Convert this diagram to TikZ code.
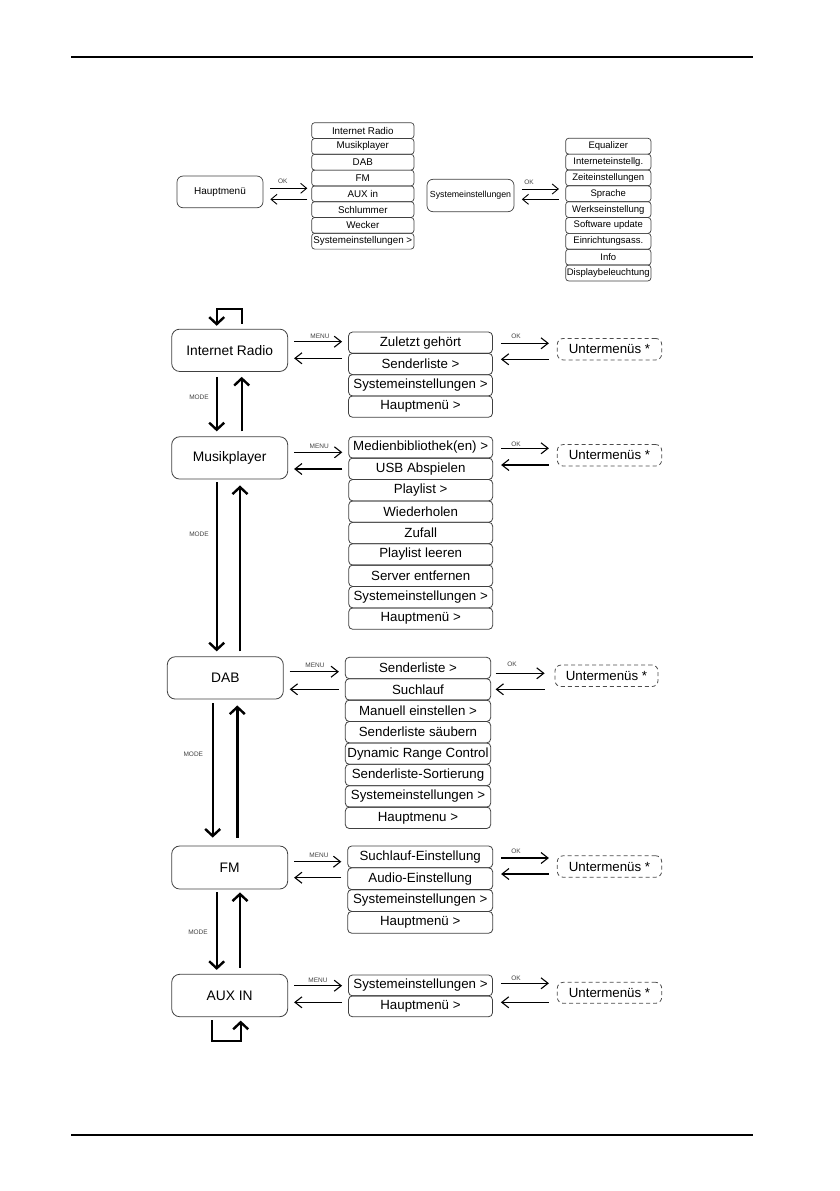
\documentclass[tikz,border=0pt]{standalone}
\usepackage{fontspec}
\setmainfont{Liberation Sans}
\usetikzlibrary{arrows.meta}

\tikzset{
  modebox/.style={draw=black!75, line width=0.8pt, rounded corners=8pt, minimum width=116pt, minimum height=42.3pt, inner sep=0pt, font=\fontsize{13.8}{15}\selectfont},
  itembox/.style={draw=black!75, line width=0.8pt, rounded corners=4pt, minimum width=144pt, minimum height=21.4pt, inner sep=0pt, font=\fontsize{13.3}{15}\selectfont},
  subbox/.style={draw=black!70, dash pattern=on 4pt off 3pt, line width=0.8pt, rounded corners=6pt, minimum width=104.4pt, minimum height=21.5pt, inner sep=0pt, font=\fontsize{13.3}{15}\selectfont},
  topbox/.style={draw=black!75, line width=0.7pt, rounded corners=6pt, inner sep=0pt, font=\fontsize{10}{11}\selectfont},
  topitem/.style={draw=black!75, line width=0.7pt, rounded corners=3pt, inner sep=0pt, minimum height=15.8pt, font=\fontsize{9.8}{11}\selectfont},
  keylabel/.style={font=\fontsize{6.5}{7}\selectfont, text=black!75, inner sep=0pt},
  toparrow/.style={-{Straight Barb[length=6pt,width=10pt]}, line width=0.9pt},
  menuarrow/.style={-{Straight Barb[length=7pt,width=11pt]}, line width=1.1pt, shorten <=6pt, shorten >=6pt},
  okarrow/.style={menuarrow, shorten <=8pt, shorten >=8pt},
  modearrow/.style={-{Straight Barb[length=7pt,width=15pt]}, line width=2.4pt},
}

\begin{document}
\begin{tikzpicture}[x=1pt,y=-1pt]
\useasboundingbox (0,0) rectangle (839,1191);

% page rules
\draw[line width=1.1pt] (71,57) -- (753,57);
\draw[line width=1.1pt] (71,1135) -- (753,1135);

% ---- Hauptmenue / Systemeinstellungen ----
\node[topbox, minimum width=86pt, minimum height=31.7pt] (hm) at (220,191.9) {Hauptmenü};
\foreach \t [count=\i] in {Internet Radio, Musikplayer, DAB, FM, AUX in, Schlummer, Wecker, Systemeinstellungen >}
  \node[topitem, minimum width=102.3pt] (hml\i) at (362.8,{130.6+15.8*(\i-1)}) {\t};
\draw[toparrow, shorten <=7pt, shorten >=4pt] (hm.east |- 0,188.3) -- (hml1.west |- 0,188.3);
\draw[toparrow, shorten <=4pt, shorten >=7pt] (hml1.west |- 0,199.3) -- (hm.east |- 0,199.3);
\node[keylabel] (okhm) at (282.7,181.7) {OK};

\node[topbox, minimum width=87pt, minimum height=32.4pt, font=\fontsize{8.8}{10}\selectfont] (se) at (470.5,195.5) {Systemeinstellungen};
\foreach \t [count=\i] in {Equalizer, Interneteinstellg., Zeiteinstellungen, Sprache, Werkseinstellung, Software update, Einrichtungsass., Info, Displaybeleuchtung}
  \node[topitem, minimum width=85.3pt, minimum height=15.85pt, font=\fontsize{9.5}{11}\selectfont] (sel\i) at (608.3,{146.2+15.85*(\i-1)}) {\t};
\draw[toparrow, shorten <=7.5pt, shorten >=6.4pt] (se.east |- 0,189) -- (sel1.west |- 0,189);
\draw[toparrow, shorten <=6.4pt, shorten >=7.5pt] (sel1.west |- 0,199.3) -- (se.east |- 0,199.3);
\node[keylabel] (okse) at (529,182) {OK};

% ---- Internet Radio ----
\node[modebox] (ir) at (229.7,350.3) {Internet Radio};
\foreach \t [count=\i] in {Zuletzt gehört, Senderliste >, Systemeinstellungen >, Hauptmenü >}
  \node[itembox, minimum height=21.3pt] (irl\i) at (420.5,{342.7+21.3*(\i-1)}) {\t};
\node[subbox] (irsub) at (609.5,349.2) {Untermenüs *};
\draw[menuarrow] (ir.east |- 0,341.7) -- (irl1.west |- 0,341.7);
\draw[menuarrow] (irl1.west |- 0,358.3) -- (ir.east |- 0,358.3);
\node[keylabel] (menuir) at (320,336.5) {MENU};
\draw[okarrow] (irl1.east |- 0,343.3) -- (irsub.west |- 0,343.3);
\draw[okarrow] (irsub.west |- 0,359.3) -- (irl1.east |- 0,359.3);
\node[keylabel] (okir) at (516,336.7) {OK};
\draw[modearrow, shorten <=5pt, shorten >=3pt] (241.7,0 |- ir.north) -- (241.7,309) -- (216.7,309) -- (216.7,0 |- ir.north);

% ---- Musikplayer ----
\node[modebox] (mp) at (229.7,457.9) {Musikplayer};
\foreach \t [count=\i] in {Medienbibliothek(en) >, USB Abspielen, Playlist >, Wiederholen, Zufall, Playlist leeren, Server entfernen, Systemeinstellungen >, Hauptmenü >}
  \node[itembox] (mpl\i) at (420.7,{447.4+21.4*(\i-1)}) {\t};
\node[subbox] (mpsub) at (609.5,455.3) {Untermenüs *};
\draw[menuarrow] (mp.east |- 0,452.3) -- (mpl1.west |- 0,452.3);
\draw[menuarrow] (mpl1.west |- 0,469) -- (mp.east |- 0,469);
\node[keylabel] (menump) at (319.3,446.7) {MENU};
\draw[okarrow] (mpl1.east |- 0,448.3) -- (mpsub.west |- 0,448.3);
\draw[okarrow] (mpsub.west |- 0,465) -- (mpl1.east |- 0,465);
\node[keylabel] (okmp) at (516,444) {OK};

\draw[modearrow, shorten <=5pt, shorten >=5pt] (216.7,0 |- ir.south) -- (216.7,0 |- mp.north);
\draw[modearrow, shorten <=5pt, shorten >=5pt] (241.7,0 |- mp.north) -- (241.7,0 |- ir.south);
\node[keylabel] (modeir) at (199,397.7) {MODE};

% ---- DAB ----
\node[modebox] (dab) at (225.3,677.9) {DAB};
\foreach \t [count=\i] in {Senderliste >, Suchlauf, Manuell einstellen >, Senderliste säubern, Dynamic Range Control, Senderliste-Sortierung, Systemeinstellungen >, Hauptmenu >}
  \node[itembox, minimum width=145.4pt] (dabl\i) at (418,{668+21.4*(\i-1)}) {\t};
\node[subbox, minimum width=103pt] (dabsub) at (606.5,675.8) {Untermenüs *};
\draw[menuarrow] (dab.east |- 0,671.7) -- (dabl1.west |- 0,671.7);
\draw[menuarrow] (dabl1.west |- 0,689.3) -- (dab.east |- 0,689.3);
\node[keylabel] (menudab) at (315,665) {MENU};
\draw[okarrow, shorten <=4.5pt, shorten >=10pt] (dabl1.east |- 0,673.3) -- (dabsub.west |- 0,673.3);
\draw[okarrow, shorten <=10pt, shorten >=4.5pt] (dabsub.west |- 0,689.3) -- (dabl1.east |- 0,689.3);
\node[keylabel] (okdab) at (512,664) {OK};

\draw[modearrow, shorten <=3pt, shorten >=5pt] (216.7,0 |- mp.south) -- (216.7,0 |- dab.north);
\draw[modearrow, shorten <=5pt, shorten >=6pt] (240,0 |- dab.north) -- (240,0 |- mp.south);
\node[keylabel] (modemp) at (199,534.3) {MODE};

% ---- FM ----
\node[modebox, minimum height=43pt] (fm) at (229.7,867.5) {FM};
\foreach \t [count=\i] in {Suchlauf-Einstellung, Audio-Einstellung, Systemeinstellungen >, Hauptmenü >}
  \node[itembox, minimum width=145pt, minimum height=21.8pt] (fml\i) at (420.2,{856.9+21.8*(\i-1)}) {\t};
\node[subbox] (fmsub) at (609.5,866.5) {Untermenüs *};
\draw[menuarrow] (fm.east |- 0,861.7) -- (fml1.west |- 0,861.7);
\draw[menuarrow] (fml1.west |- 0,877.7) -- (fm.east |- 0,877.7);
\node[keylabel] (menufm) at (319,855.7) {MENU};
\draw[okarrow] (fml1.east |- 0,858) -- (fmsub.west |- 0,858);
\draw[okarrow] (fmsub.west |- 0,874) -- (fml1.east |- 0,874);
\node[keylabel] (okfm) at (516,851) {OK};

\draw[modearrow, shorten <=4pt, shorten >=8pt] (212.7,0 |- dab.south) -- (212.7,0 |- fm.north);
\draw[modearrow, shorten <=8pt, shorten >=6pt] (237.3,0 |- fm.north) -- (237.3,0 |- dab.south);
\node[keylabel] (modedab) at (193.3,754.3) {MODE};

% ---- AUX IN ----
\node[modebox, minimum height=42.4pt] (aux) at (229.7,995.5) {AUX IN};
\foreach \t [count=\i] in {Systemeinstellungen >, Hauptmenü >}
  \node[itembox, minimum height=20.9pt] (auxl\i) at (420.5,{985.4+20.9*(\i-1)}) {\t};
\node[subbox, minimum height=21pt] (auxsub) at (609.5,992.8) {Untermenüs *};
\draw[menuarrow] (aux.east |- 0,985.7) -- (auxl1.west |- 0,985.7);
\draw[menuarrow] (auxl1.west |- 0,1002.3) -- (aux.east |- 0,1002.3);
\node[keylabel] (menuaux) at (318,980) {MENU};
\draw[okarrow] (auxl1.east |- 0,983.3) -- (auxsub.west |- 0,983.3);
\draw[okarrow] (auxsub.west |- 0,1002.3) -- (auxl1.east |- 0,1002.3);
\node[keylabel] (okaux) at (516,978) {OK};

\draw[modearrow, shorten <=3pt, shorten >=4pt] (216.7,0 |- fm.south) -- (216.7,0 |- aux.north);
\draw[modearrow, shorten <=6pt, shorten >=3pt] (240,0 |- aux.north) -- (240,0 |- fm.south);
\node[keylabel] (modefm) at (198,932.3) {MODE};
\draw[modearrow, shorten <=3pt, shorten >=3.5pt] (211.7,0 |- aux.south) -- (211.7,1041) -- (240.7,1041) -- (240.7,0 |- aux.south);

\end{tikzpicture}
\end{document}
